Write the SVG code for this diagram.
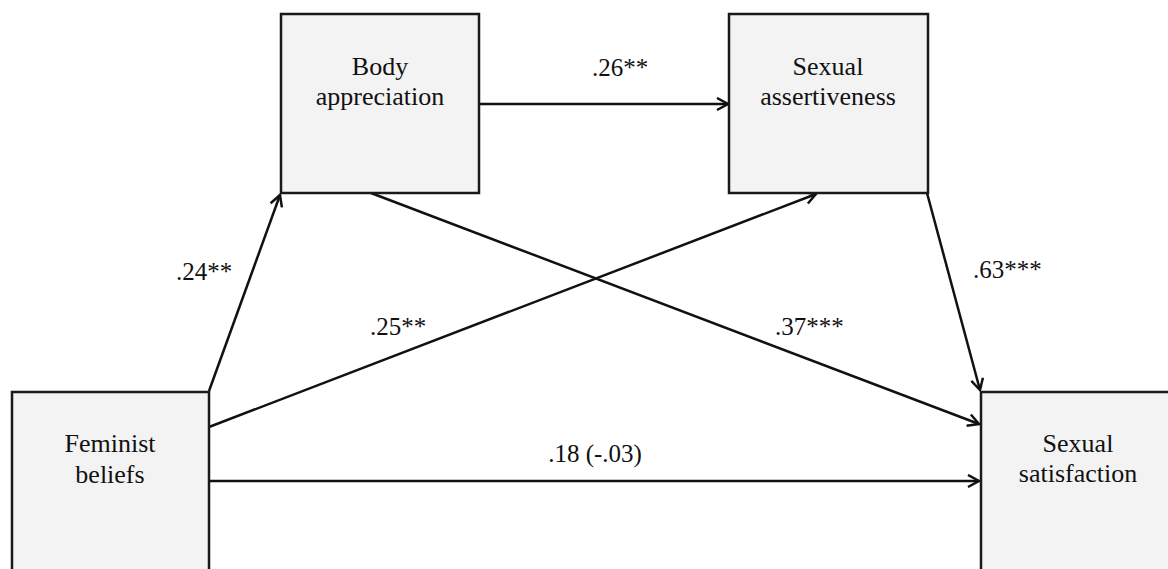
<svg xmlns="http://www.w3.org/2000/svg" width="1168" height="569" viewBox="0 0 1168 569">
<style>
.box{fill:#f3f3f3;stroke:#1a1a1a;stroke-width:2.5}
.t{font-family:"Liberation Serif","Times New Roman",serif;font-size:26px;fill:#111;text-anchor:middle}
.l{font-family:"Liberation Serif","Times New Roman",serif;font-size:25px;fill:#111}
.c{fill:none;stroke:#111;stroke-width:2.5}
</style>
<defs>
<marker id="arr" markerUnits="userSpaceOnUse" markerWidth="16" markerHeight="16" refX="12" refY="7" orient="auto">
<path d="M1,1 L12,7 L1,13" fill="none" stroke="#111" stroke-width="2.5"/>
</marker>
</defs>
<rect width="1168" height="569" fill="#fff"/>
<g id="connectors">
<line class="c" x1="209" y1="391" x2="280" y2="195" marker-end="url(#arr)"/>
<line class="c" x1="209" y1="427" x2="816" y2="194" marker-end="url(#arr)"/>
<line class="c" x1="371" y1="193" x2="979" y2="424" marker-end="url(#arr)"/>
<line class="c" x1="927" y1="193" x2="980" y2="390" marker-end="url(#arr)"/>
<line class="c" x1="479" y1="104" x2="728" y2="104" marker-end="url(#arr)"/>
<line class="c" x1="209" y1="481" x2="979" y2="481" marker-end="url(#arr)"/>
</g>
<g id="labels">
<text class="l" x="620" y="76" text-anchor="middle">.26**</text>
<text class="l" x="176" y="280">.24**</text>
<text class="l" x="370" y="335">.25**</text>
<text class="l" x="775" y="335">.37***</text>
<text class="l" x="973" y="278">.63***</text>
<text class="l" x="595" y="462" text-anchor="middle">.18 (-.03)</text>
</g>
<g id="body-appreciation">
<rect class="box" x="281" y="14" width="198" height="179"/>
<text class="t" x="380" y="75">Body</text>
<text class="t" x="380" y="105">appreciation</text>
</g>
<g id="sexual-assertiveness">
<rect class="box" x="729" y="14" width="199" height="179"/>
<text class="t" x="828" y="75">Sexual</text>
<text class="t" x="828" y="105">assertiveness</text>
</g>
<g id="feminist-beliefs">
<rect class="box" x="12" y="392" width="197" height="190"/>
<text class="t" x="110" y="452">Feminist</text>
<text class="t" x="110" y="483">beliefs</text>
</g>
<g id="sexual-satisfaction">
<rect class="box" x="981" y="392" width="200" height="190"/>
<text class="t" x="1078" y="452">Sexual</text>
<text class="t" x="1078" y="482">satisfaction</text>
</g>
</svg>
